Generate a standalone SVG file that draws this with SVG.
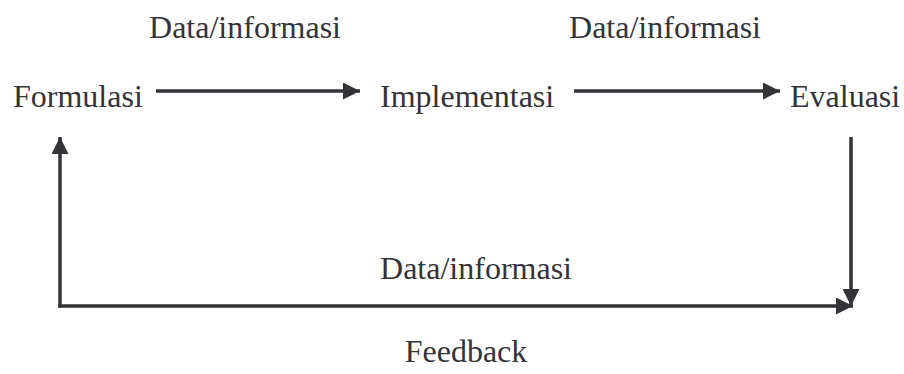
<svg xmlns="http://www.w3.org/2000/svg" width="904" height="374" viewBox="0 0 904 374">
<style>
text{font-family:"Liberation Serif","Times New Roman",serif;font-size:32px;fill:#333338}
.c{stroke:#333338;stroke-width:3.5;fill:none}
</style>
<defs>
<marker id="ah" viewBox="0 0 17 17" refX="17" refY="8.5" markerWidth="17" markerHeight="17" markerUnits="userSpaceOnUse" orient="auto">
<path d="M0,0 L17,8.5 L0,17 Z" fill="#333338"/>
</marker>
</defs>
<rect width="904" height="374" fill="#ffffff"/>
<g id="formulasi"><text x="13" y="107">Formulasi</text></g>
<g id="implementasi"><text x="380" y="107">Implementasi</text></g>
<g id="evaluasi"><text x="790" y="107">Evaluasi</text></g>
<g id="connectors">
<line class="c" x1="156" y1="91" x2="360" y2="91" marker-end="url(#ah)"/>
<line class="c" x1="574" y1="91" x2="780" y2="91" marker-end="url(#ah)"/>
<line class="c" x1="851" y1="137" x2="851" y2="306" marker-end="url(#ah)"/>
<line class="c" x1="60" y1="307.75" x2="60" y2="137" marker-end="url(#ah)"/>
<line class="c" x1="58.25" y1="306" x2="853" y2="306" marker-end="url(#ah)"/>
</g>
<g id="labels">
<text x="245" y="38" text-anchor="middle">Data/informasi</text>
<text x="665" y="38" text-anchor="middle">Data/informasi</text>
<text x="476" y="279" text-anchor="middle">Data/informasi</text>
<text x="466" y="362" text-anchor="middle">Feedback</text>
</g>
</svg>
